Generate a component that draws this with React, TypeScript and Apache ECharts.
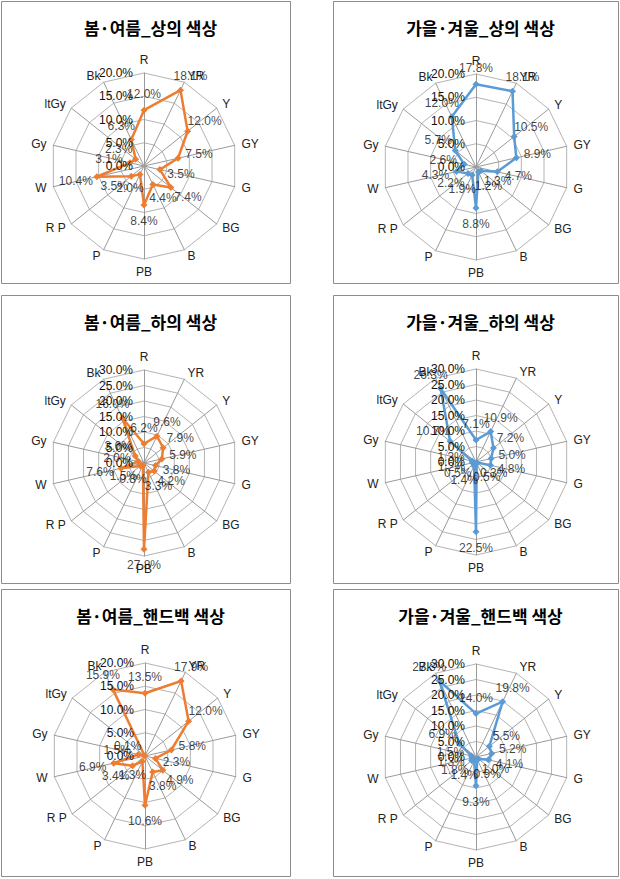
import React, { useEffect, useRef } from "react";
import * as echarts from "echarts";

const categories = ["R", "YR", "Y", "GY", "G", "BG", "B", "PB", "P", "R P", "W", "Gy", "ltGy", "Bk"];

const ssTop = [12.0, 18.1, 12.0, 7.5, 3.5, 7.4, 4.4, 8.4, 2.0, 3.5, 10.4, 3.1, 2.3, 6.3];
const fwTop = [17.8, 18.1, 10.5, 8.9, 4.7, 1.3, 1.2, 8.8, 1.9, 2.2, 4.3, 2.6, 5.7, 12.0];
const ssBottom = [6.2, 9.6, 7.9, 5.9, 3.8, 4.2, 3.3, 27.8, 0.8, 1.5, 7.6, 2.0, 3.6, 16.0];
const fwBottom = [7.1, 10.9, 7.2, 5.0, 4.8, 0.3, 0.5, 22.5, 1.4, 0.5, 1.2, 1.3, 10.7, 26.3];
const ssBag = [13.5, 17.9, 12.0, 5.8, 2.3, 4.9, 3.8, 10.6, 1.3, 3.4, 6.9, 1.5, 0.1, 15.9];
const fwBag = [14.0, 19.8, 5.5, 5.2, 4.1, 1.0, 0.9, 9.3, 1.4, 1.8, 1.3, 1.5, 6.9, 27.3];

const titles = [
  "봄·여름_상의 색상",
  "가을·겨울_상의 색상",
  "봄·여름_하의 색상",
  "가을·겨울_하의 색상",
  "봄·여름_핸드백 색상",
  "가을·겨울_핸드백 색상",
];
const panelData = [ssTop, fwTop, ssBottom, fwBottom, ssBag, fwBag];
const panelMax = [20, 20, 30, 30, 20, 30];

const ORANGE = "#ED7D31";
const BLUE = "#5B9BD5";
const FONT = "Liberation Sans, Arial, sans-serif";
const KFONT = "Noto Sans CJK KR, sans-serif";

// layout (positions/sizes)
const panels = [
  { x: 1, y: 1, w: 289, h: 282, cx: 144, cy: 166, color: ORANGE },
  { x: 333, y: 1, w: 285, h: 282, cx: 476, cy: 167, color: BLUE },
  { x: 1, y: 295, w: 289, h: 288, cx: 144, cy: 463, color: ORANGE },
  { x: 333, y: 295, w: 285, h: 288, cx: 476, cy: 462, color: BLUE },
  { x: 1, y: 589, w: 289, h: 287, cx: 145, cy: 756, color: ORANGE },
  { x: 333, y: 589, w: 285, h: 287, cx: 476, cy: 757, color: BLUE },
];
const RADIUS = 93;
const N = categories.length;

// ECharts radar goes counter-clockwise; reorder so it reads clockwise like the reference
const order = [0, ...Array.from({ length: N - 1 }, (_, i) => N - 1 - i)];

export default function App() {
  const ref = useRef<HTMLDivElement>(null);
  useEffect(() => {
    if (!ref.current) return;
    const chart = echarts.init(ref.current, undefined, { renderer: "svg" });

    const radar = panels.map((p, i) => ({
      center: [p.cx, p.cy],
      radius: RADIUS,
      shape: "polygon",
      startAngle: 90,
      splitNumber: panelMax[i] / 5,
      indicator: order.map((k) => ({ name: categories[k], min: 0, max: panelMax[i] })),
      axisName: { color: "#222", fontSize: 12, fontFamily: FONT },
      nameGap: 7,
      splitArea: { show: false },
      splitLine: { lineStyle: { color: "#b4b4b4", width: 1 } },
      axisLine: { lineStyle: { color: "#9a9a9a", width: 1 } },
      axisTick: { show: false },
      axisLabel: { show: false },
    }));

    const polar = panels.map((p) => ({ center: [p.cx, p.cy], radius: RADIUS }));
    const angleAxis = panels.map((_, i) => ({
      polarIndex: i,
      type: "value",
      show: false,
      startAngle: 90,
      clockwise: true,
      min: 0,
      max: 360,
    }));
    const radiusAxis = panels.map((_, i) => ({
      polarIndex: i,
      type: "value",
      min: 0,
      max: panelMax[i],
      interval: 5,
      axisLine: { show: false },
      axisTick: { show: false },
      splitLine: { show: false },
      axisLabel: {
        show: true,
        margin: 11,
        fontSize: 12,
        color: "#111",
        fontFamily: FONT,
        formatter: (v: number) => v.toFixed(1) + "%",
      },
      z: 5,
    }));

    const lineSeries = panels.map((p, i) => ({
      type: "radar",
      radarIndex: i,
      symbol: "diamond",
      symbolSize: 7,
      lineStyle: { color: p.color, width: 2.5 },
      itemStyle: { color: p.color },
      label: { show: false },
      z: 3,
      data: [{ value: order.map((k) => panelData[i][k]), name: titles[i] }],
    }));

    // value labels placed just outside each vertex, in the polar system sharing the radar's scale
    const labelSeries = panels.map((p, i) => ({
      type: "scatter",
      coordinateSystem: "polar",
      polarIndex: i,
      symbol: "circle",
      symbolSize: 1,
      itemStyle: { color: "rgba(0,0,0,0)" },
      silent: true,
      z: 6,
      label: {
        show: true,
        position: "inside",
        fontSize: 12,
        color: "#111",
        fontFamily: FONT,
        formatter: (d: any) => Number(d.value[0]).toFixed(1) + "%",
      },
      data: categories.map((c, k) => {
        const th = (k * 2 * Math.PI) / N;
        return {
          name: c,
          value: [panelData[i][k], (k * 360) / N],
          label: { offset: [Math.round(22 * Math.sin(th)), Math.round(-16 * Math.cos(th))] },
        };
      }),
    }));

    const title = panels.map((p, i) => ({
      text: titles[i],
      left: p.x + p.w / 2,
      top: p.y + 13,
      textAlign: "center",
      textStyle: { fontSize: 17, fontWeight: "bold", color: "#000", fontFamily: KFONT },
    }));

    const graphic = panels.map((p) => ({
      type: "rect",
      shape: { x: p.x + 0.5, y: p.y + 0.5, width: p.w, height: p.h },
      style: { fill: "none", stroke: "#8c8c8c", lineWidth: 1 },
      z: -10,
      silent: true,
    }));

    chart.setOption({
      animation: false,
      backgroundColor: "#fff",
      title,
      radar,
      polar,
      angleAxis,
      radiusAxis,
      series: [...lineSeries, ...labelSeries],
      graphic,
    });
    return () => chart.dispose();
  }, []);
  return (
    <div
      ref={ref}
      style={{ position: "fixed", left: 0, top: 0, width: 620, height: 879, background: "#fff" }}
    />
  );
}
